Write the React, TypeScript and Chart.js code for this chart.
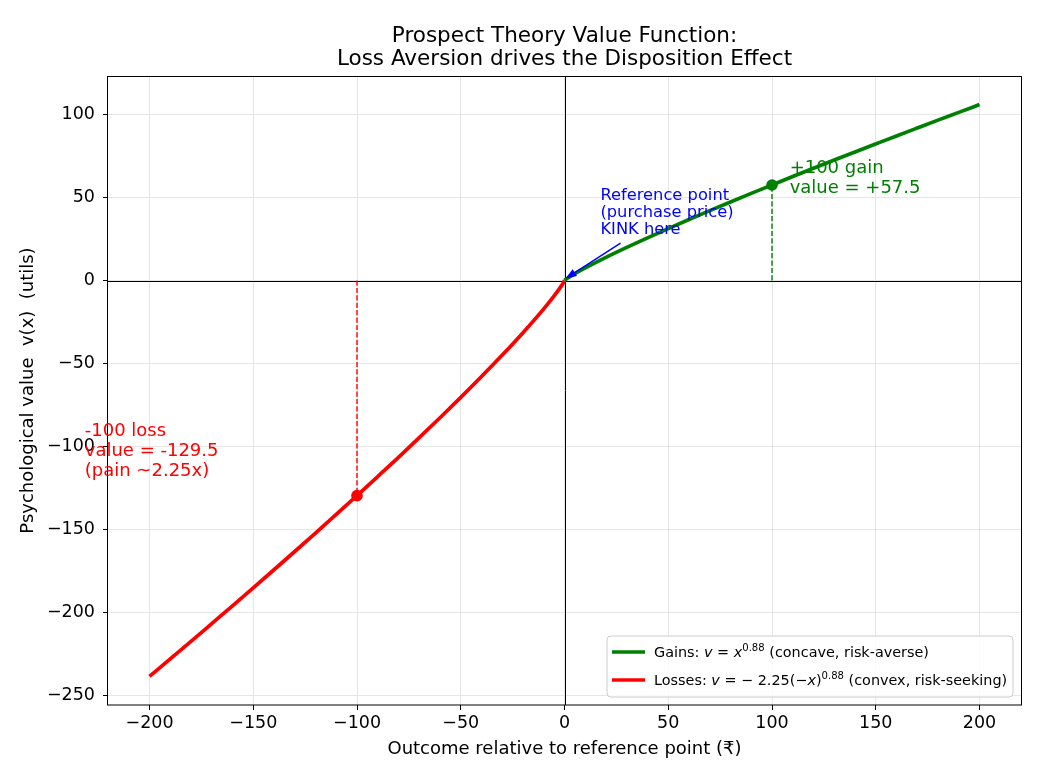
import { useEffect, useRef } from "react";
import { Chart, registerables } from "chart.js";

Chart.register(...registerables);

// Value function samples (gains side and losses side)
const gainX = [0, 1, 2, 5, 10, 20, 30, 40, 50, 60, 70, 80, 90, 100, 110, 120, 130, 140, 150, 160, 170, 180, 190, 200];
const gainV = [0, 1.0, 1.84, 4.12, 7.59, 13.96, 19.95, 25.69, 31.27, 36.71, 42.04, 47.29, 52.45, 57.5, 62.58, 67.56, 72.49, 77.37, 82.21, 87.03, 91.79, 96.53, 101.2, 105.9];
const lossX = [-200, -190, -180, -170, -160, -150, -140, -130, -120, -110, -100, -90, -80, -70, -60, -50, -40, -30, -20, -10, -5, -2, -1, 0];
const lossV = [-238.3, -227.7, -217.2, -206.5, -195.8, -185.0, -174.1, -163.1, -152.0, -140.8, -129.5, -118.0, -106.4, -94.59, -82.6, -70.36, -57.8, -44.89, -31.41, -17.07, -9.27, -4.14, -2.25, 0];

// Highlighted outcomes
const gainMarkX = 100;
const gainMarkV = 57.5;
const lossMarkX = -100;
const lossMarkV = -129.5;

// Axis ticks
const xTicks = [-200, -150, -100, -50, 0, 50, 100, 150, 200];
const yTicks = [-250, -200, -150, -100, -50, 0, 50, 100];
const xRange = [-220, 220];
const yRange = [-255.5, 123.1];

const titleLines = ["Prospect Theory Value Function:", "Loss Aversion drives the Disposition Effect"];
const xLabel = "Outcome relative to reference point (\u20B9)";
const yLabel = "Psychological value  v(x)  (utils)";

const gainNote = ["+100 gain", `value = +${gainMarkV}`];
const lossNote = ["-100 loss", `value = ${lossMarkV}`, "(pain ~2.25x)"];
const refNote = ["Reference point", "(purchase price)", "KINK here"];

const GREEN = "#008000";
const RED = "#ff0000";
const BLUE = "#0000ff";
const FONT = '"DejaVu Sans", sans-serif';

type Seg = { t: string; italic?: boolean; sup?: boolean };
const gainLegend: Seg[] = [
  { t: "Gains: " },
  { t: "v", italic: true },
  { t: " = " },
  { t: "x", italic: true },
  { t: "0.88", sup: true },
  { t: " (concave, risk-averse)" },
];
const lossLegend: Seg[] = [
  { t: "Losses: " },
  { t: "v", italic: true },
  { t: " = \u2212 2.25(\u2212" },
  { t: "x", italic: true },
  { t: ")" },
  { t: "0.88", sup: true },
  { t: " (convex, risk-seeking)" },
];

const fmt = (v: number) => (v < 0 ? "\u2212" + Math.abs(v) : String(v));

function drawRich(ctx: CanvasRenderingContext2D, segs: Seg[], x: number, y: number, size: number) {
  let cx = x;
  for (const s of segs) {
    const fs = s.sup ? size * 0.7 : size;
    ctx.font = `${s.italic ? "italic " : ""}${fs}px ${FONT}`;
    const dy = s.sup ? -size * 0.42 : 0;
    ctx.fillText(s.t, cx, y + dy);
    cx += ctx.measureText(s.t).width;
  }
}

function drawLines(ctx: CanvasRenderingContext2D, lines: string[], x: number, y: number, step: number) {
  lines.forEach((l, i) => ctx.fillText(l, x, y + i * step));
}

const overlay = {
  id: "overlay",
  beforeDatasetsDraw(chart: any) {
    const { ctx, chartArea: a, scales } = chart;
    const px = Math.round(scales.x.getPixelForValue(0)) + 0.5;
    const py = Math.round(scales.y.getPixelForValue(0)) + 0.5;
    ctx.save();
    ctx.strokeStyle = "#000";
    ctx.lineWidth = 1;
    ctx.beginPath();
    ctx.moveTo(px, a.top);
    ctx.lineTo(px, a.bottom);
    ctx.moveTo(a.left, py);
    ctx.lineTo(a.right, py);
    ctx.stroke();
    ctx.restore();
  },
  afterDraw(chart: any) {
    const { ctx, chartArea: a, scales } = chart;
    const X = (v: number) => scales.x.getPixelForValue(v);
    const Y = (v: number) => scales.y.getPixelForValue(v);
    const cx = (a.left + a.right) / 2;
    ctx.save();

    // frame
    ctx.strokeStyle = "#000";
    ctx.lineWidth = 1;
    ctx.strokeRect(Math.round(a.left) - 0.5, Math.round(a.top) + 0.5, Math.round(a.right - a.left) + 1, Math.round(a.bottom - a.top) - 0.5);

    // title
    ctx.fillStyle = "#000";
    ctx.textAlign = "center";
    ctx.textBaseline = "alphabetic";
    ctx.font = `21.5px ${FONT}`;
    ctx.fillText(titleLines[0], cx, 42);
    ctx.fillText(titleLines[1], cx, 65);

    // axis labels
    ctx.font = `18px ${FONT}`;
    ctx.textBaseline = "middle";
    ctx.fillText(xLabel, cx, 749);
    ctx.save();
    ctx.translate(28, (a.top + a.bottom) / 2);
    ctx.rotate(-Math.PI / 2);
    ctx.fillText(yLabel, 0, 0);
    ctx.restore();

    // notes
    ctx.textAlign = "left";
    ctx.textBaseline = "alphabetic";
    ctx.font = `18px ${FONT}`;
    ctx.fillStyle = GREEN;
    drawLines(ctx, gainNote, X(108.5), Y(64.5), 20);
    ctx.fillStyle = RED;
    drawLines(ctx, lossNote, X(-231.2), Y(-93.8), 20);
    ctx.font = `16.3px ${FONT}`;
    ctx.fillStyle = BLUE;
    drawLines(ctx, refNote, X(17.3), Y(48.2), 17);

    // arrow to the reference point
    const sx = X(27), sy = Y(22.5);
    const ex = X(0.5), ey = Y(1.2);
    const ang = Math.atan2(ey - sy, ex - sx);
    const hl = 11, hw = 4;
    const bx = ex - hl * Math.cos(ang), by = ey - hl * Math.sin(ang);
    ctx.strokeStyle = BLUE;
    ctx.fillStyle = BLUE;
    ctx.lineWidth = 1.5;
    ctx.beginPath();
    ctx.moveTo(sx, sy);
    ctx.lineTo(bx, by);
    ctx.stroke();
    ctx.beginPath();
    ctx.moveTo(ex, ey);
    ctx.lineTo(bx + hw * Math.sin(ang), by - hw * Math.cos(ang));
    ctx.lineTo(bx - hw * Math.sin(ang), by + hw * Math.cos(ang));
    ctx.closePath();
    ctx.fill();

    // legend
    const lx = 607, ly = 636, lw = 406, lh = 61, r = 4;
    ctx.beginPath();
    ctx.moveTo(lx + r, ly);
    ctx.arcTo(lx + lw, ly, lx + lw, ly + lh, r);
    ctx.arcTo(lx + lw, ly + lh, lx, ly + lh, r);
    ctx.arcTo(lx, ly + lh, lx, ly, r);
    ctx.arcTo(lx, ly, lx + lw, ly, r);
    ctx.closePath();
    ctx.fillStyle = "rgba(255,255,255,0.8)";
    ctx.fill();
    ctx.strokeStyle = "#cccccc";
    ctx.lineWidth = 1;
    ctx.stroke();

    const rows: [string, Seg[], number][] = [
      [GREEN, gainLegend, 652],
      [RED, lossLegend, 680],
    ];
    for (const [col, segs, yy] of rows) {
      ctx.strokeStyle = col;
      ctx.lineWidth = 3.5;
      ctx.beginPath();
      ctx.moveTo(612, yy);
      ctx.lineTo(645, yy);
      ctx.stroke();
      ctx.fillStyle = "#000";
      drawRich(ctx, segs, 654, yy + 5, 14.4);
    }
    ctx.restore();
  },
};

export default function App() {
  const ref = useRef<HTMLCanvasElement | null>(null);

  useEffect(() => {
    if (!ref.current) return;
    const pts = (xs: number[], vs: number[]) => xs.map((x, i) => ({ x, y: vs[i] }));
    const tickFont = { family: FONT, size: 17.5 };
    const chart = new Chart(ref.current, {
      type: "line",
      data: {
        datasets: [
          { data: [{ x: gainMarkX, y: gainMarkV }], borderColor: GREEN, backgroundColor: GREEN, pointRadius: 5.8, pointBorderWidth: 0, showLine: false },
          { data: [{ x: lossMarkX, y: lossMarkV }], borderColor: RED, backgroundColor: RED, pointRadius: 5.8, pointBorderWidth: 0, showLine: false },
          { data: pts(gainX, gainV), borderColor: GREEN, borderWidth: 3.7, pointRadius: 0, cubicInterpolationMode: "monotone", fill: false },
          { data: pts(lossX, lossV), borderColor: RED, borderWidth: 3.7, pointRadius: 0, cubicInterpolationMode: "monotone", fill: false },
          { data: [{ x: gainMarkX, y: 0 }, { x: gainMarkX, y: gainMarkV }], borderColor: GREEN, borderWidth: 1.4, borderDash: [5.2, 2.2], pointRadius: 0, fill: false },
          { data: [{ x: lossMarkX, y: 0 }, { x: lossMarkX, y: lossMarkV }], borderColor: RED, borderWidth: 1.4, borderDash: [5.2, 2.2], pointRadius: 0, fill: false },
        ],
      },
      options: {
        responsive: false,
        animation: false,
        devicePixelRatio: 1,
        layout: { padding: { top: 76, right: 19, left: 0, bottom: 0 } },
        plugins: { legend: { display: false }, title: { display: false }, tooltip: { enabled: false } },
        events: [],
        scales: {
          x: {
            type: "linear",
            min: xRange[0],
            max: xRange[1],
            afterBuildTicks: (s: any) => { s.ticks = xTicks.map((value) => ({ value })); },
            afterFit: (s: any) => { s.height = 75; },
            border: { display: false },
            grid: { color: "#e6e6e6", lineWidth: 1, tickColor: "#000", tickLength: 5, tickWidth: 1 },
            ticks: { font: tickFont, color: "#000", padding: 3, maxRotation: 0, callback: (v: any) => fmt(Number(v)) },
          },
          y: {
            type: "linear",
            min: yRange[0],
            max: yRange[1],
            afterBuildTicks: (s: any) => { s.ticks = yTicks.map((value) => ({ value })); },
            afterFit: (s: any) => { s.width = 108; },
            border: { display: false },
            grid: { color: "#e6e6e6", lineWidth: 1, tickColor: "#000", tickLength: 5, tickWidth: 1 },
            ticks: { font: tickFont, color: "#000", padding: 8, callback: (v: any) => fmt(Number(v)) },
          },
        },
      },
      plugins: [overlay],
    } as any);
    return () => chart.destroy();
  }, []);

  return (
    <div style={{ position: "absolute", left: 0, top: 0, width: 1040, height: 780, background: "#fff" }}>
      <canvas ref={ref} width={1040} height={780} style={{ display: "block" }} />
    </div>
  );
}
